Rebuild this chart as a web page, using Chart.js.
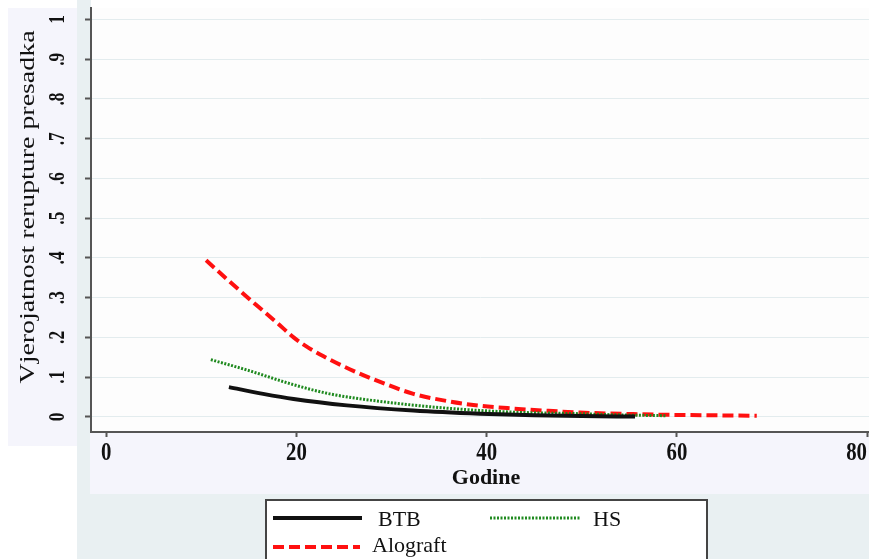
<!DOCTYPE html>
<html>
<head>
<meta charset="utf-8">
<script src="https://cdn.jsdelivr.net/npm/chart.js@4.4.1/dist/chart.umd.min.js"></script>
<style>
  body { margin: 0; background: #ffffff; }
  #wrap { width: 869px; height: 559px; position: relative; }
</style>
</head>
<body>
<div id="wrap"><canvas id="chart"></canvas></div>
<script>
// vrijednosti očitane sa slike
const btbX = [12.9, 16.5, 19.7, 25.3, 32.3, 39.3, 45, 50, 55.6];
const btbY = [0.075, 0.058, 0.045, 0.029, 0.016, 0.008, 0.004, 0.002, 0.001];

const hsX = [11.0, 14.8, 19.7, 23.5, 28.8, 35.8, 42.8, 49.8, 54, 58.8];
const hsY = [0.144, 0.118, 0.081, 0.058, 0.039, 0.022, 0.012, 0.008, 0.005, 0.003];

const aloX = [10.5, 13, 16, 18, 19.7, 21, 22.8, 25.6, 28.8, 32.3, 35.8, 39.3, 42.8, 46, 49.8, 55.4, 60, 64, 68.4];
const aloY = [0.394, 0.34, 0.277, 0.236, 0.2, 0.178, 0.153, 0.12, 0.088, 0.058, 0.04, 0.028, 0.021, 0.016, 0.011, 0.007, 0.005, 0.004, 0.003];

const xTicks = [0, 20, 40, 60, 80];
const xTickLabels = ["0", "20", "40", "60", "80"];
const yTicks = [0, 0.1, 0.2, 0.3, 0.4, 0.5, 0.6, 0.7, 0.8, 0.9, 1];
const yTickLabels = ["0", ".1", ".2", ".3", ".4", ".5", ".6", ".7", ".8", ".9", "1"];

const seriesNames = ["BTB", "HS", "Alograft"];
const yTitle = "Vjerojatnost rerupture presadka";
const xTitle = "Godine";

const SERIF = "'Liberation Serif', 'Times New Roman', serif";

function toPoints(xs, ys) {
  return xs.map((x, i) => ({ x: x, y: ys[i] }));
}

// pozadinski pravokutnici (kao na izvornoj slici)
const backgroundPlugin = {
  id: "backgroundPlugin",
  beforeDraw(chart) {
    const ctx = chart.ctx;
    const area = chart.chartArea;
    ctx.save();
    ctx.fillStyle = "#ffffff";
    ctx.fillRect(0, 0, chart.width, chart.height);
    ctx.fillStyle = "#f5f5fc";
    ctx.fillRect(8, 8, 69, 438);
    ctx.fillStyle = "#e9f0f2";
    ctx.fillRect(77, 0, 14, chart.height);
    ctx.fillRect(77, 494, chart.width - 77, chart.height - 494);
    ctx.fillStyle = "#f5f5fc";
    ctx.fillRect(90, area.bottom, chart.width - 90, 494 - area.bottom);
    ctx.fillStyle = "#fdfdfd";
    ctx.fillRect(area.left, area.top, area.right - area.left, area.bottom - area.top);
    ctx.restore();
  },
};

// oznake osi (uske, kao u Stata izvozu)
const axisTextPlugin = {
  id: "axisTextPlugin",
  afterDraw(chart) {
    const ctx = chart.ctx;
    const yScale = chart.scales.y;
    const xScale = chart.scales.x;
    ctx.save();
    ctx.fillStyle = "#111111";
    ctx.textAlign = "center";
    ctx.textBaseline = "middle";
    ctx.font = "bold 23px " + SERIF;
    yTicks.forEach((v, i) => {
      const py = yScale.getPixelForValue(v);
      ctx.save();
      ctx.translate(58, py);
      ctx.rotate(-Math.PI / 2);
      ctx.scale(0.75, 1);
      ctx.fillText(yTickLabels[i], 0, 0);
      ctx.restore();
    });

    ctx.textBaseline = "alphabetic";
    ctx.font = "bold 26px " + SERIF;
    xTicks.forEach((v, i) => {
      const w = ctx.measureText(xTickLabels[i]).width * 0.8;
      let px = xScale.getPixelForValue(v);
      px = Math.min(px, chart.width - 2 - w / 2);
      ctx.save();
      ctx.translate(px, 460);
      ctx.scale(0.8, 1);
      ctx.fillText(xTickLabels[i], 0, 0);
      ctx.restore();
    });

    ctx.font = "bold 22px " + SERIF;
    ctx.fillText(xTitle, 486, 484);

    ctx.textBaseline = "middle";
    ctx.font = "20px " + SERIF;
    const tw = ctx.measureText(yTitle).width;
    ctx.translate(29, 207);
    ctx.rotate(-Math.PI / 2);
    ctx.scale(353 / tw, 1);
    ctx.fillText(yTitle, 0, 0);
    ctx.restore();
  },
};

// legenda u okviru ispod grafa
const legendBoxPlugin = {
  id: "legendBoxPlugin",
  afterDraw(chart) {
    const ctx = chart.ctx;
    const ds = chart.data.datasets;
    ctx.save();
    ctx.fillStyle = "#ffffff";
    ctx.fillRect(266, 500, 441, 70);
    ctx.strokeStyle = "#444444";
    ctx.lineWidth = 2;
    ctx.strokeRect(266, 500, 441, 70);

    const slots = [
      { x1: 273, x2: 362, y: 518, tx: 378, ty: 526 },
      { x1: 490, x2: 580, y: 518, tx: 593, ty: 526 },
      { x1: 273, x2: 360, y: 547, tx: 372, ty: 552 },
    ];
    ds.forEach((d, i) => {
      const s = slots[i];
      ctx.beginPath();
      ctx.strokeStyle = d.borderColor;
      ctx.lineWidth = d.borderWidth;
      ctx.setLineDash(d.borderDash || []);
      ctx.moveTo(s.x1, s.y);
      ctx.lineTo(s.x2, s.y);
      ctx.stroke();
      ctx.setLineDash([]);
      ctx.fillStyle = "#111111";
      ctx.font = "22px " + SERIF;
      ctx.textAlign = "left";
      ctx.textBaseline = "alphabetic";
      ctx.fillText(d.label, s.tx, s.ty);
    });
    ctx.restore();
  },
};

const ctx = document.getElementById("chart").getContext("2d");

new Chart(ctx, {
  type: "line",
  data: {
    datasets: [
      {
        label: seriesNames[0],
        data: toPoints(btbX, btbY),
        borderColor: "#111111",
        borderWidth: 4,
        pointRadius: 0,
        cubicInterpolationMode: "monotone",
        fill: false,
      },
      {
        label: seriesNames[1],
        data: toPoints(hsX, hsY),
        borderColor: "#1f8a1f",
        borderWidth: 3,
        borderDash: [2, 1.5],
        pointRadius: 0,
        cubicInterpolationMode: "monotone",
        fill: false,
      },
      {
        label: seriesNames[2],
        data: toPoints(aloX, aloY),
        borderColor: "#ff1010",
        borderWidth: 4,
        borderDash: [11, 5],
        pointRadius: 0,
        cubicInterpolationMode: "monotone",
        fill: false,
      },
    ],
  },
  options: {
    responsive: true,
    maintainAspectRatio: false,
    animation: false,
    layout: {
      padding: { left: 0, right: 0, top: 8, bottom: 64 },
    },
    plugins: {
      legend: { display: false },
      tooltip: { enabled: false },
    },
    scales: {
      x: {
        type: "linear",
        min: -1.6,
        max: 80.2,
        afterBuildTicks: (scale) => {
          scale.ticks = xTicks.map((v) => ({ value: v }));
        },
        afterFit: (scale) => {
          scale.height = 63;
          scale.paddingLeft = 0;
          scale.paddingRight = 0;
        },
        border: { display: true, color: "#555555", width: 2 },
        grid: {
          drawOnChartArea: false,
          drawTicks: true,
          tickLength: 5,
          tickColor: "#555555",
          tickWidth: 2,
        },
        ticks: { display: false },
      },
      y: {
        type: "linear",
        min: -0.038,
        max: 1.029,
        afterBuildTicks: (scale) => {
          scale.ticks = yTicks.map((v) => ({ value: v }));
        },
        afterFit: (scale) => {
          scale.width = 91;
          scale.paddingTop = 0;
          scale.paddingBottom = 0;
        },
        border: { display: true, color: "#555555", width: 2 },
        grid: {
          color: "#e3ecee",
          lineWidth: 1,
          drawTicks: true,
          tickLength: 6,
          tickColor: "#555555",
          tickWidth: 2,
        },
        ticks: { display: false },
      },
    },
  },
  plugins: [backgroundPlugin, axisTextPlugin, legendBoxPlugin],
});
</script>
</body>
</html>
